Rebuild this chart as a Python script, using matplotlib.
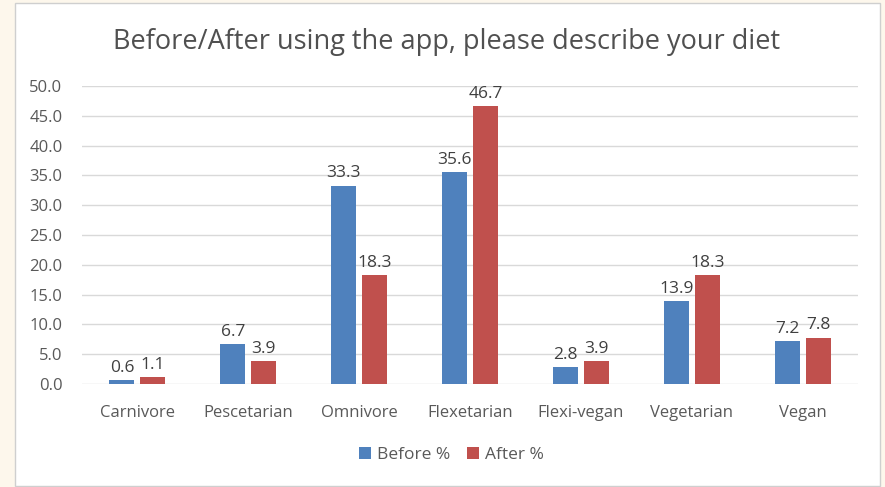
import matplotlib.pyplot as plt
import numpy as np
from matplotlib.patches import Rectangle

# diet categories and survey shares (%)
diets = ['Carnivore', 'Pescetarian', 'Omnivore', 'Flexetarian',
         'Flexi-vegan', 'Vegetarian', 'Vegan']
before = [0.6, 6.7, 33.3, 35.6, 2.8, 13.9, 7.2]
after = [1.1, 3.9, 18.3, 46.7, 3.9, 18.3, 7.8]
yticks = [0, 5, 10, 15, 20, 25, 30, 35, 40, 45, 50]

plt.rcParams['font.family'] = ['Open Sans', 'DejaVu Sans']
txt = '#595959'

fig = plt.figure(figsize=(8.85, 4.87), dpi=100)
fig.patch.set_facecolor('white')

# cream page border around the chart frame
cream = '#fdf7ec'
fig.add_artist(Rectangle((0, 0), 15 / 885, 1, transform=fig.transFigure,
                         facecolor=cream, edgecolor='none'))
fig.add_artist(Rectangle((880 / 885, 0), 5 / 885, 1, transform=fig.transFigure,
                         facecolor=cream, edgecolor='none'))
fig.add_artist(Rectangle((0, 1 - 3 / 487), 1, 3 / 487, transform=fig.transFigure,
                         facecolor=cream, edgecolor='none'))
fig.add_artist(Rectangle((15 / 885, 1 / 487), 865 / 885, 483 / 487,
                         transform=fig.transFigure, facecolor='none',
                         edgecolor='#cfcfcf', linewidth=1))

ax = fig.add_axes([82 / 885, 1 - 384 / 487, 776 / 885, 298 / 487])

x = np.arange(len(diets))
w = 0.225
gap = 0.055
b1 = ax.bar(x - (w + gap) / 2, before, w, color='#4f81bd', label='Before %', zorder=3)
b2 = ax.bar(x + (w + gap) / 2, after, w, color='#c0504d', label='After %', zorder=3)

for bars in (b1, b2):
    ax.bar_label(bars, labels=[f'{v:.1f}' for v in bars.datavalues],
                 padding=3, fontsize=12.5, color='#404040')

ax.set_xlim(-0.5, len(diets) - 0.5)
ax.set_ylim(0, 50)
ax.set_yticks(yticks)
ax.set_yticklabels([f'{v:.1f}' for v in yticks])
ax.set_xticks(x)
ax.set_xticklabels(diets)
ax.tick_params(axis='both', length=0, labelsize=12, labelcolor=txt)
ax.tick_params(axis='y', pad=14)
ax.tick_params(axis='x', pad=15)
ax.grid(axis='y', color='#d9d9d9', linewidth=1, zorder=0)
for s in ax.spines.values():
    s.set_visible(False)

fig.text(0.505, 1 - 42 / 487, 'Before/After using the app, please describe your diet',
         ha='center', va='center', fontsize=19.5, color='#505050')

fig.legend(loc='center', bbox_to_anchor=(0.51, 1 - 455 / 487), ncol=2,
           frameon=False, fontsize=12.5, labelcolor=txt, handlelength=0.7,
           handleheight=0.7, handletextpad=0.3, columnspacing=1.0)

fig.savefig('out.png', dpi=100)
